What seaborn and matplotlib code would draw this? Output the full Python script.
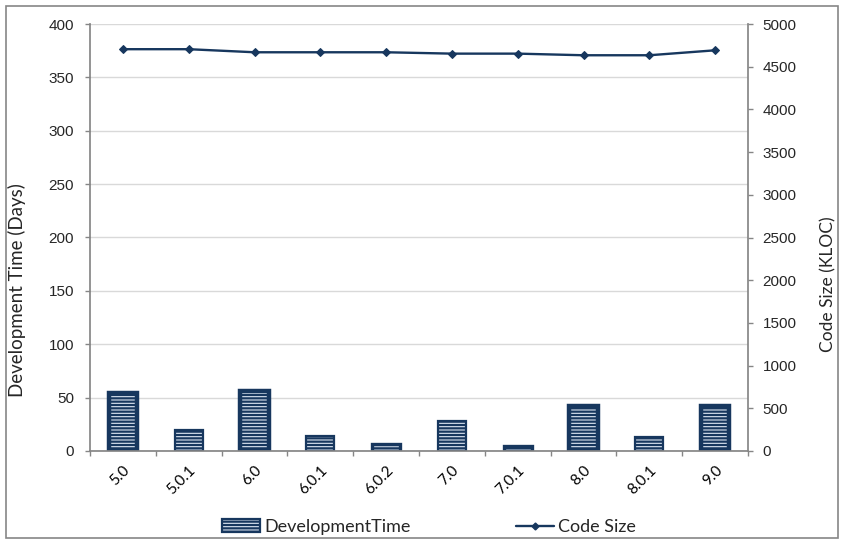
import numpy as np
import pandas as pd
import seaborn as sns
import matplotlib
matplotlib.use("Agg")
import matplotlib.pyplot as plt
from matplotlib.patches import Rectangle, Patch
from matplotlib.lines import Line2D
from matplotlib.ticker import FixedLocator, MultipleLocator

# Release data
versions = ["5.0", "5.0.1", "6.0", "6.0.1", "6.0.2", "7.0", "7.0.1", "8.0", "8.0.1", "9.0"]
dev_time_days = [54, 20, 56, 14, 7, 28, 5, 42, 13, 42]
code_size_kloc = [4705, 4705, 4669, 4669, 4669, 4653, 4653, 4634, 4634, 4692]

NAVY = "#17375E"
FILL = "#DCE6F2"
GRID = "#D9D9D9"
SPINE = "#868686"
LABEL_FONT = ["Lato", "DejaVu Sans"]

sns.set_theme(style="white")
plt.rcParams["font.family"] = ["Liberation Sans", "DejaVu Sans"]
plt.rcParams["hatch.color"] = NAVY
plt.rcParams["hatch.linewidth"] = 1.6

df = pd.DataFrame({"Version": versions, "DevelopmentTime": dev_time_days,
                   "Code Size": code_size_kloc})

W, H = 843, 542
fig = plt.figure(figsize=(W / 100, H / 100), dpi=100)
ax = fig.add_axes([90 / W, 1 - 451 / H, (748 - 90) / W, (451 - 24) / H])

sns.barplot(data=df, x="Version", y="DevelopmentTime", ax=ax, width=0.43,
            color=FILL, saturation=1, edgecolor=NAVY, linewidth=2.5)

# heavier outline on the long release cycles
border = [3.2, 1.6, 3.2, 1.6, 2.4, 1.6, 2.4, 3.2, 1.6, 3.2]
for p, lw in zip(ax.patches, border):
    p.set_hatch("-----")
    p.set_linewidth(lw)
    p.set_edgecolor(NAVY)
    p.set_facecolor(FILL)

ax.set_ylim(0, 400)
ax.yaxis.set_major_locator(MultipleLocator(50))
ax.grid(axis="y", color=GRID, linewidth=1)
ax.set_axisbelow(True)

ax2 = ax.twinx()
sns.lineplot(data=df, x=np.arange(len(versions)), y="Code Size", ax=ax2,
             color=NAVY, linewidth=1.7, marker="D", markersize=4,
             markeredgecolor=NAVY)
ax2.set_ylim(0, 5000)
ax2.yaxis.set_major_locator(MultipleLocator(500))
ax2.grid(False)

ax.set_xlim(-0.5, len(versions) - 0.5)
ax.set_xticks(np.arange(len(versions)))
ax.set_xticklabels(versions, rotation=45, ha="right", rotation_mode="anchor",
                   family=LABEL_FONT, fontsize=11, color="#000000")
ax.xaxis.set_minor_locator(FixedLocator(np.arange(-0.5, len(versions), 1.0)))
ax.tick_params(axis="x", which="major", length=0, pad=9)
ax.tick_params(axis="x", which="minor", length=3.6, color=SPINE, width=1,
               direction="out", bottom=True)
ax.tick_params(axis="y", length=3.6, color=SPINE, width=1, direction="out",
               labelsize=11, left=True, pad=8)
ax2.tick_params(axis="y", length=3.6, color=SPINE, width=1, direction="out",
                labelsize=11, right=True, pad=7)

for a in (ax, ax2):
    for s in a.spines.values():
        s.set_visible(False)
ax.spines["left"].set_visible(True)
ax.spines["left"].set_color(SPINE)
ax.spines["bottom"].set_visible(True)
ax.spines["bottom"].set_color(SPINE)
ax2.spines["right"].set_visible(True)
ax2.spines["right"].set_color(SPINE)

ax.set_xlabel("")
ax.set_ylabel("Development Time (Days)", family=LABEL_FONT, fontsize=13.5,
              va="center", ha="center")
ax.yaxis.set_label_coords((17 - 90) / 658, 0.377)
ax2.set_ylabel("Code Size (KLOC)", family=LABEL_FONT, fontsize=12.5,
               rotation=90, va="center", ha="center")
ax2.yaxis.set_label_coords((828 - 90) / 658, 0.391)

leg_handles = [
    Patch(facecolor=FILL, edgecolor=NAVY, hatch="-----", linewidth=1.6),
    Line2D([0], [0], color=NAVY, linewidth=1.7, marker="D", markersize=3.5),
]
leg = fig.legend(leg_handles, ["DevelopmentTime", "Code Size"], ncol=2,
                 loc="center", bbox_to_anchor=(429 / W, 1 - 527 / H),
                 frameon=False, handlelength=2.1, handletextpad=0.25,
                 columnspacing=5.8, prop={"family": LABEL_FONT, "size": 13})

fig.patches.append(Rectangle((6 / W, 4 / H), (838 - 6) / W, (536 - 4) / H,
                             transform=fig.transFigure, fill=False,
                             edgecolor=SPINE, linewidth=1.2))

fig.savefig("out.png", dpi=100)
